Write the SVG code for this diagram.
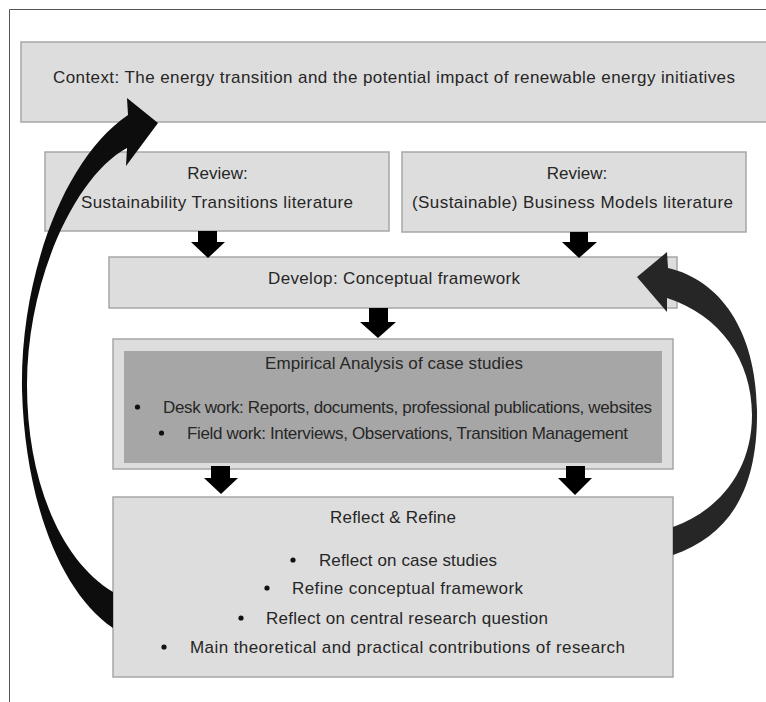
<svg xmlns="http://www.w3.org/2000/svg" width="766" height="702" viewBox="0 0 766 702">
<style>
.box{fill:#dddddd;stroke:#a6a6a6;stroke-width:1.5}
.inner{fill:#a6a6a6;stroke:none}
.t{font-family:"Liberation Sans",Arial,sans-serif;font-size:17px;fill:#262626}
.c{text-anchor:middle}
.dot{fill:#111}
.blk{fill:#000}
.curveL{fill:#0d0d0d}
.curveR{fill:#262626}
.frame{stroke:#555;stroke-width:1;fill:none}
</style>
<rect width="766" height="702" fill="#fff"/>
<path class="frame" d="M9.5,702 V9.5 H766"/>

<g id="context">
<rect class="box" x="21" y="42" width="760" height="80"/>
<text class="t" x="53" y="83" textLength="682">Context: The energy transition and the potential impact of renewable energy initiatives</text>
</g>

<g id="review-st">
<rect class="box" x="45" y="152" width="344" height="79"/>
<text class="t c" x="217.5" y="179">Review:</text>
<text class="t" x="81" y="208" textLength="272">Sustainability Transitions literature</text>
</g>

<g id="review-bm">
<rect class="box" x="402" y="152" width="344" height="80"/>
<text class="t c" x="577" y="179">Review:</text>
<text class="t" x="412" y="208" textLength="321">(Sustainable) Business Models literature</text>
</g>

<g id="develop">
<rect class="box" x="109" y="257" width="568" height="51"/>
<text class="t" x="268" y="284" textLength="252">Develop: Conceptual framework</text>
</g>

<g id="empirical">
<rect class="box" x="113" y="339" width="560" height="130"/>
<rect class="inner" x="124" y="351" width="538" height="112"/>
<text class="t" x="265" y="369" textLength="258">Empirical Analysis of case studies</text>
<circle class="dot" cx="137.5" cy="407" r="2.6"/>
<text class="t" x="163" y="413" textLength="489">Desk work: Reports, documents, professional publications, websites</text>
<circle class="dot" cx="161.5" cy="433" r="2.6"/>
<text class="t" x="187" y="439" textLength="441">Field work: Interviews, Observations, Transition Management</text>
</g>

<g id="reflect">
<rect class="box" x="113" y="497" width="560" height="180"/>
<text class="t" x="330" y="523" textLength="126">Reflect &amp; Refine</text>
<circle class="dot" cx="293" cy="560" r="2.6"/>
<text class="t" x="319" y="566" textLength="178">Reflect on case studies</text>
<circle class="dot" cx="267" cy="588" r="2.6"/>
<text class="t" x="292" y="594" textLength="231">Refine conceptual framework</text>
<circle class="dot" cx="241" cy="618" r="2.6"/>
<text class="t" x="266" y="624" textLength="282">Reflect on central research question</text>
<circle class="dot" cx="164" cy="647" r="2.6"/>
<text class="t" x="190" y="653" textLength="435">Main theoretical and practical contributions of research</text>
</g>

<g id="connectors">
<polygon class="blk" points="198,231 217,231 217,242 225,242 208,258 191,242 198,242"/>
<polygon class="blk" points="570,232 588,232 588,242 597,242 579,258 562,242 570,242"/>
<polygon class="blk" points="369,308 388,308 388,322 396,322 378,338 360,322 369,322"/>
<polygon class="blk" points="211,466 230,466 230,478 238,478 221,494 204,478 211,478"/>
<polygon class="blk" points="566,466 585,466 585,478 592,478 575,495 558,478 566,478"/>
<path class="curveL" d="M113,628 C60,592 25,500 22,390 C20,280 62,160 128,115 L127,98 L158,123 L126,166 L127,148 C75,176 27,280 27,385 C27,480 60,560 113,592 Z"/>
<path class="curveR" d="M673,555 C730,535 758,490 757,410 C756,330 720,280 668,268 L667,252 L637,277 L667,312 L667,298 C720,315 752,360 752,415 C752,470 720,510 673,527 Z"/>
</g>
</svg>
